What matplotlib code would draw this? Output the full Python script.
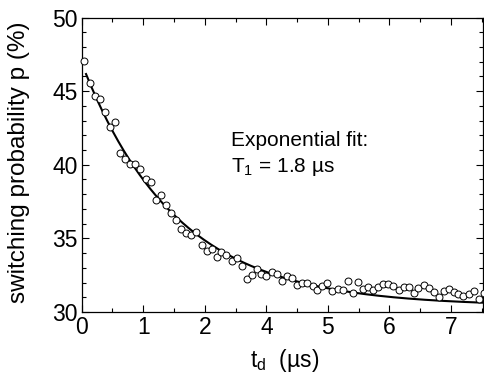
import matplotlib
matplotlib.use("Agg")
import matplotlib.pyplot as plt
import numpy as np
from matplotlib.ticker import MultipleLocator

plt.rcParams['font.family'] = ['Liberation Sans', 'DejaVu Sans']
plt.rcParams['mathtext.default'] = 'regular'

# delay positions on the axis (tick labels in the figure skip "3")
t_d = [0.04, 0.13, 0.22, 0.30, 0.38, 0.46, 0.54, 0.62, 0.70, 0.78,
       0.87, 0.95, 1.04, 1.12, 1.20, 1.29, 1.37, 1.45, 1.53, 1.61,
       1.69, 1.77, 1.86, 1.95, 2.03, 2.11, 2.19, 2.27, 2.35, 2.44,
       2.52, 2.60, 2.68, 2.76, 2.84, 2.92, 3.00, 3.09, 3.17, 3.25,
       3.34, 3.42, 3.50, 3.58, 3.66, 3.75, 3.83, 3.91, 3.99, 4.07,
       4.16, 4.24, 4.32, 4.40, 4.49, 4.57, 4.65, 4.73, 4.82, 4.90,
       4.98, 5.06, 5.15, 5.23, 5.31, 5.39, 5.47, 5.56, 5.64, 5.72,
       5.80, 5.88, 5.96, 6.04, 6.12, 6.20, 6.29, 6.37, 6.46, 6.53]
p_switch = [47.07, 45.53, 44.69, 44.48, 43.56, 42.54, 42.90, 40.82, 40.41, 40.03,
            40.03, 39.71, 39.06, 38.80, 37.60, 37.94, 37.26, 36.70, 36.24, 35.61,
            35.38, 35.20, 35.41, 34.57, 34.16, 34.25, 33.75, 34.09, 33.85, 33.48,
            33.64, 33.12, 32.21, 32.51, 32.93, 32.57, 32.46, 32.70, 32.57, 32.12,
            32.46, 32.28, 31.81, 31.98, 31.94, 31.76, 31.49, 31.76, 31.94, 31.40,
            31.54, 31.49, 32.10, 31.26, 32.01, 31.56, 31.67, 31.49, 31.71, 31.88,
            31.90, 31.76, 31.49, 31.71, 31.71, 31.26, 31.64, 31.83, 31.62, 31.35,
            31.03, 31.42, 31.54, 31.37, 31.22, 31.08, 31.20, 31.42, 30.90, 31.30]

# exponential fit parameters (offset, amplitude, decay in axis units)
fit_offset = 30.4
fit_amp = 16.5
fit_tau = 1.53

xtick_pos = [0, 1, 2, 3, 4, 5, 6]
xtick_labels = ['0', '1', '2', '4', '5', '6', '7']
ytick_pos = [30, 35, 40, 45, 50]

fig = plt.figure(figsize=(4.85, 3.73), dpi=100)
ax = fig.add_axes([0.1685, 0.1635, 0.8275, 0.7895])

tt = np.linspace(0.07, 6.6, 300)
ax.plot(tt, fit_offset + fit_amp * np.exp(-tt / fit_tau), color='black', lw=1.5, zorder=2)
ax.plot(t_d, p_switch, 'o', mfc='white', mec='black', ms=5, mew=0.7, zorder=3, clip_on=False)

ax.set_xlim(0, 6.52)
ax.set_ylim(30, 50)
ax.set_xticks(xtick_pos)
ax.set_xticklabels(xtick_labels)
ax.set_yticks(ytick_pos)
ax.xaxis.set_minor_locator(MultipleLocator(0.5))
ax.yaxis.set_minor_locator(MultipleLocator(1))
ax.tick_params(which='both', direction='in', top=True, right=True, labelsize=16.5, width=0.8)
ax.tick_params(axis='x', pad=3)
ax.tick_params(axis='y', pad=3)
ax.tick_params(which='major', length=5)
ax.tick_params(which='minor', length=3)
for s in ax.spines.values():
    s.set_linewidth(0.9)

ax.set_xlabel('t$_d$  (µs)', fontsize=16.5)
ax.set_ylabel('switching probability p (%)', fontsize=17.5)
ax.xaxis.set_label_coords(0.505, -0.118)
ax.yaxis.set_label_coords(-0.128, 0.51)

ax.text(2.42, 41.27, 'Exponential fit:', fontsize=15, va='baseline')
ax.text(2.42, 39.52, 'T$_1$ = 1.8 µs', fontsize=15, va='baseline')

fig.savefig('out.png', dpi=100)
